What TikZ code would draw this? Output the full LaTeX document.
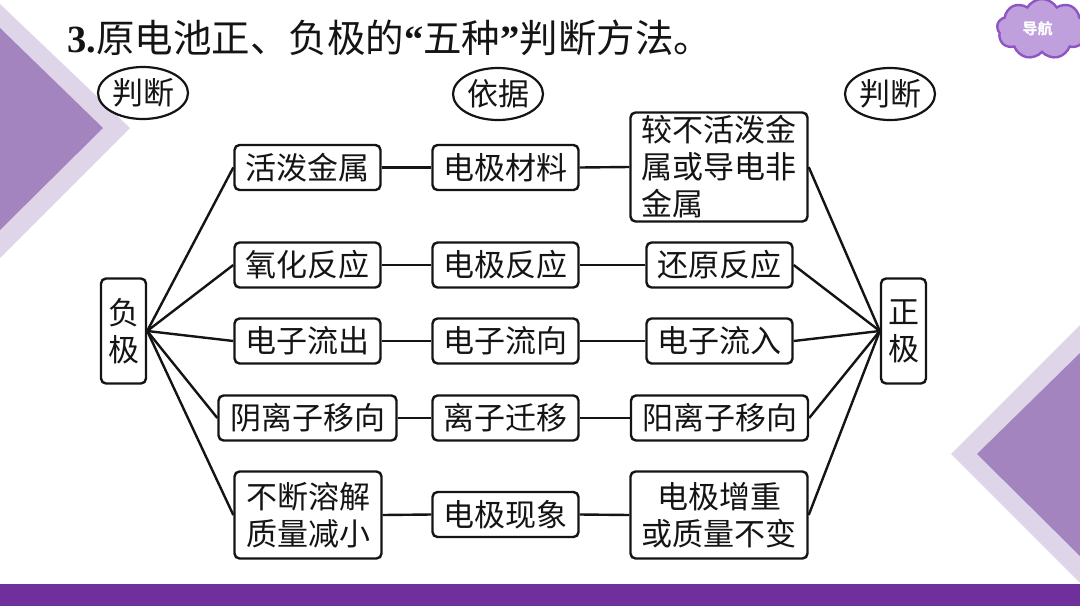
\documentclass[tikz,border=0pt]{standalone}
\usepackage{fontspec}
\setmainfont{Liberation Serif}
\newfontfamily\cjk{Noto Sans CJK SC}
\usetikzlibrary{shapes.geometric,shapes.symbols}
\definecolor{tlight}{HTML}{DFD5E8}
\definecolor{tdark}{HTML}{A484BE}
\definecolor{barc}{HTML}{70309C}
\definecolor{cloudf}{HTML}{BFA0DC}
\definecolor{cloudl}{HTML}{8F55C4}
\definecolor{ink}{HTML}{141414}
\tikzset{
 box/.style={draw=ink,line width=2.4pt,rounded corners=5pt,fill=white,inner sep=0pt,text=ink,font=\cjk\fontsize{31}{37}\selectfont,align=center},
 tag/.style={draw=ink,line width=2.2pt,ellipse,fill=white,inner sep=0pt,minimum width=90pt,minimum height=52pt,text=ink,font=\cjk\fontsize{31}{36}\selectfont},
 link/.style={draw=ink,line width=2.4pt},
}
\begin{document}
\begin{tikzpicture}[x=1pt,y=-1pt]
\useasboundingbox (0,0) rectangle (1080,606);
\fill[white] (0,0) rectangle (1080,606);
\fill[tlight] (0,4) -- (130,128) -- (0,258) -- cycle;
\fill[tdark] (0,28) -- (103,128) -- (0,230) -- cycle;
\fill[tlight] (1080,325) -- (951,454) -- (1080,583) -- cycle;
\fill[tdark] (1080,353) -- (977,454) -- (1080,556) -- cycle;
\fill[barc] (0,584) rectangle (1080,606);
\node[anchor=west,inner sep=0pt,text=ink] (title) at (67,38) {\fontsize{38.5}{40}\selectfont\textbf{3.}\cjk 原电池正、负极的\rmfamily\textbf{“}\cjk 五种\rmfamily\textbf{”}\cjk 判断方法。};
\node[cloud,cloud puffs=9,cloud puff arc=120,aspect=1.4,draw=cloudl,line width=2.4pt,fill=cloudf,inner sep=0pt,minimum width=90pt,minimum height=60pt,text=white,font=\cjk\bfseries\fontsize{15}{16}\selectfont] (nav) at (1042,29) {\hspace*{-9pt}导航};
\node[tag] (j1) at (143,93) {判断};
\node[tag] (yj) at (498,94) {依据};
\node[tag] (j2) at (890,94) {判断};
\node[box,minimum width=146pt,minimum height=45pt] (a1) at (307.5,167.5) {活泼金属};
\node[box,minimum width=146pt,minimum height=45pt] (b1) at (505.5,167.5) {电极材料};
\node[box,minimum width=177pt,minimum height=109pt,align=left] (c1) at (719,167) {较不活泼金\\属或导电非\\金属};
\node[box,minimum width=146pt,minimum height=45pt] (a2) at (307.5,265) {氧化反应};
\node[box,minimum width=146pt,minimum height=45pt] (b2) at (505.5,265) {电极反应};
\node[box,minimum width=146pt,minimum height=45pt] (c2) at (719.5,265) {还原反应};
\node[box,minimum width=146pt,minimum height=45pt] (a3) at (307.5,341) {电子流出};
\node[box,minimum width=146pt,minimum height=45pt] (b3) at (505.5,341) {电子流向};
\node[box,minimum width=146pt,minimum height=45pt] (c3) at (719.5,341) {电子流入};
\node[box,minimum width=178pt,minimum height=45pt] (a4) at (307.5,418) {阴离子移向};
\node[box,minimum width=146pt,minimum height=45pt] (b4) at (505.5,418) {离子迁移};
\node[box,minimum width=177pt,minimum height=45pt] (c4) at (719.5,418) {阳离子移向};
\node[box,minimum width=147pt,minimum height=87pt] (a5) at (308,515) {不断溶解\\质量减小};
\node[box,minimum width=146pt,minimum height=45pt] (b5) at (505.5,514.5) {电极现象};
\node[box,minimum width=177pt,minimum height=87pt] (c5) at (719,515) {电极增重\\或质量不变};
\node[box,minimum width=45pt,minimum height=105pt] (neg) at (123.5,331) {负\\极};
\node[box,minimum width=45pt,minimum height=105pt] (pos) at (903.5,331) {正\\极};
\foreach \i in {1,...,5}{
 \draw[link] (neg.east) -- (a\i.west);
 \draw[link] (a\i.east) -- (b\i.west);
 \draw[link] (b\i.east) -- (c\i.west);
 \draw[link] (c\i.east) -- (pos.west);
}
\end{tikzpicture}
\end{document}
